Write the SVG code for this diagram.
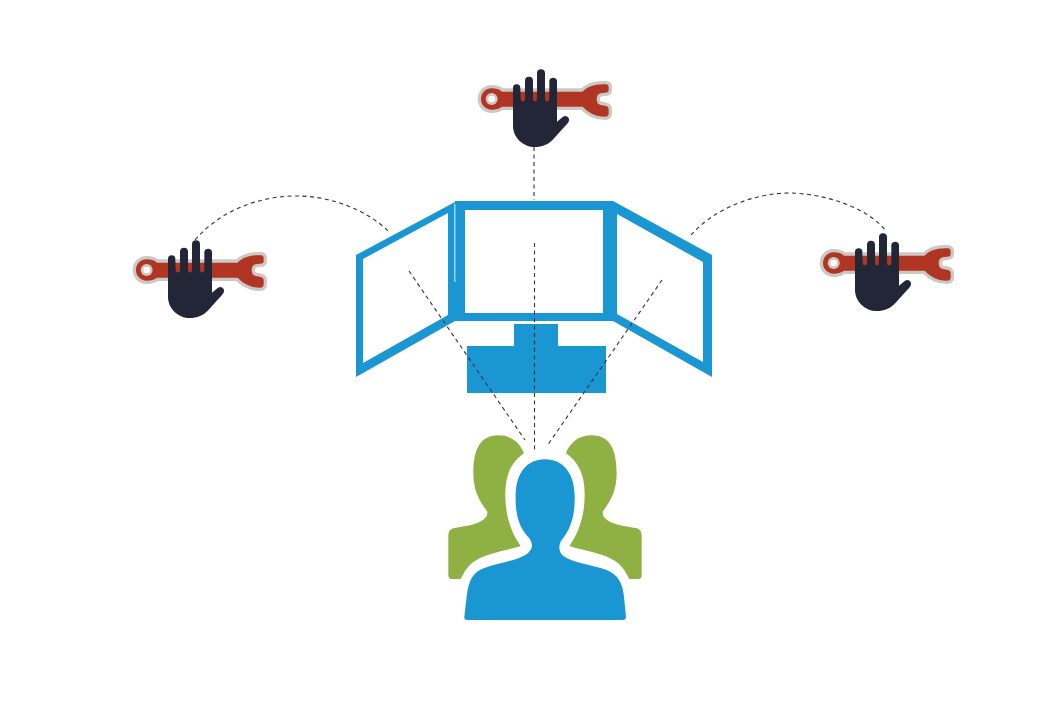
<svg xmlns="http://www.w3.org/2000/svg" width="1060" height="718" viewBox="0 0 1060 718">
<style>
.b{fill:#1a96d2}.g{fill:#8fb043}
.c{fill:none;stroke:#333;stroke-width:1.100;stroke-dasharray:4 3.500}
</style>
<defs>
<g id="tool">
<path d="M65 85C78 85 88 88 96 95L338 95C352 80 375 71 408 73Q416 74 416 82L416 90Q416 98 405 98L392 100Q380 103 380 117Q380 133 392 135L405 137Q416 139 416 148L416 160Q416 170 405 170C375 170 352 155 338 140L96 140C88 146 78 149 65 149C47 149 33 135 33 117C33 99 47 85 65 85Z" fill="#b03522" stroke="#cbc8c6" stroke-width="20" stroke-linejoin="round" paint-order="stroke"/>
<circle cx="65" cy="117" r="18" fill="#cbc8c6"/><circle cx="65" cy="117" r="10" fill="#fff"/>
<path d="M129 84a11 11 0 0 1 22 0L152 116Q152 124 158 124Q165 124 165 116L165 62a12 12 0 0 1 24 0L189 116Q189 124 195 124Q201 124 201 116L201 40a12 12 0 0 1 24 0L225 116Q225 124 231 124Q238 124 238 116L238 62a12 12 0 0 1 23 0L261 185L279 170Q289 164 296 174Q300 183 291 192L251 236C236 253 215 261 195 261C160 261 129 233 129 197Z" fill="#232637"/>
</g>
</defs>
<rect width="1060" height="718" fill="#fff"/>
<g id="monitor">
<path class="b" fill-rule="evenodd" d="M455 201H613V321H455ZM465 210V313H603V210Z"/>
<path class="b" fill-rule="evenodd" d="M455 202V321L356 377V255ZM448 213L363 259V363L448 315Z"/>
<path class="b" fill-rule="evenodd" d="M613 201L712 255V377L613 321ZM617 214V314L703 362V262Z"/>
<path d="M454.800 204V282" stroke="#bfe3f5" stroke-width="1.200"/>
<path class="b" d="M514 324H558V346H606V393H467V346H514Z"/>
</g>
<g id="tool-top"><use href="#tool" transform="translate(470 60) scale(.3333)"/></g>
<g id="tool-left"><use href="#tool" transform="translate(125 231) scale(.3333)"/></g>
<g id="tool-right"><use href="#tool" transform="translate(812 224) scale(.3333)"/></g>
<g id="people" transform="translate(430 420) scale(.3333)">
<path id="green-left" class="g" d="M205 46C245 46 272 70 282 100C245 125 225 165 226 225C226 290 245 340 272 378C230 392 160 400 125 430C105 448 100 465 92 477L65 477Q55 477 55 465L55 345Q55 328 72 324C110 318 175 310 172 275C150 245 130 215 130 160C130 90 150 46 205 46Z"/>
<path id="green-right" class="g" transform="translate(690 0) scale(-1 1)" d="M205 46C245 46 272 70 282 100C245 125 225 165 226 225C226 290 245 340 272 378C230 392 160 400 125 430C105 448 100 465 92 477L65 477Q55 477 55 465L55 345Q55 328 72 324C110 318 175 310 172 275C150 245 130 215 130 160C130 90 150 46 205 46Z"/>
<path id="blue" class="b" d="M345 118C400 118 432 160 434 225C436 290 420 330 395 360C385 375 385 395 400 408C430 430 490 435 530 450C565 465 578 490 582 530L588 590Q588 600 578 600L112 600Q102 600 103 590L110 530C115 480 130 455 165 443C210 428 270 420 295 398C310 385 308 370 298 355C270 325 255 290 257 225C258 160 290 118 345 118Z"/>
</g>
<g id="connectors">
<path class="c" d="M534 147V200"/>
<path class="c" d="M534.500 243V450"/>
<path class="c" d="M409 271L525 440"/>
<path class="c" d="M662 280L547 446"/>
<path class="c" d="M195 240C225 205 270 195 300 196C335 197 370 212 390 233"/>
<path class="c" d="M691 235C715 208 755 193 790 193C830 194 870 210 886 231"/>
</g>
</svg>
